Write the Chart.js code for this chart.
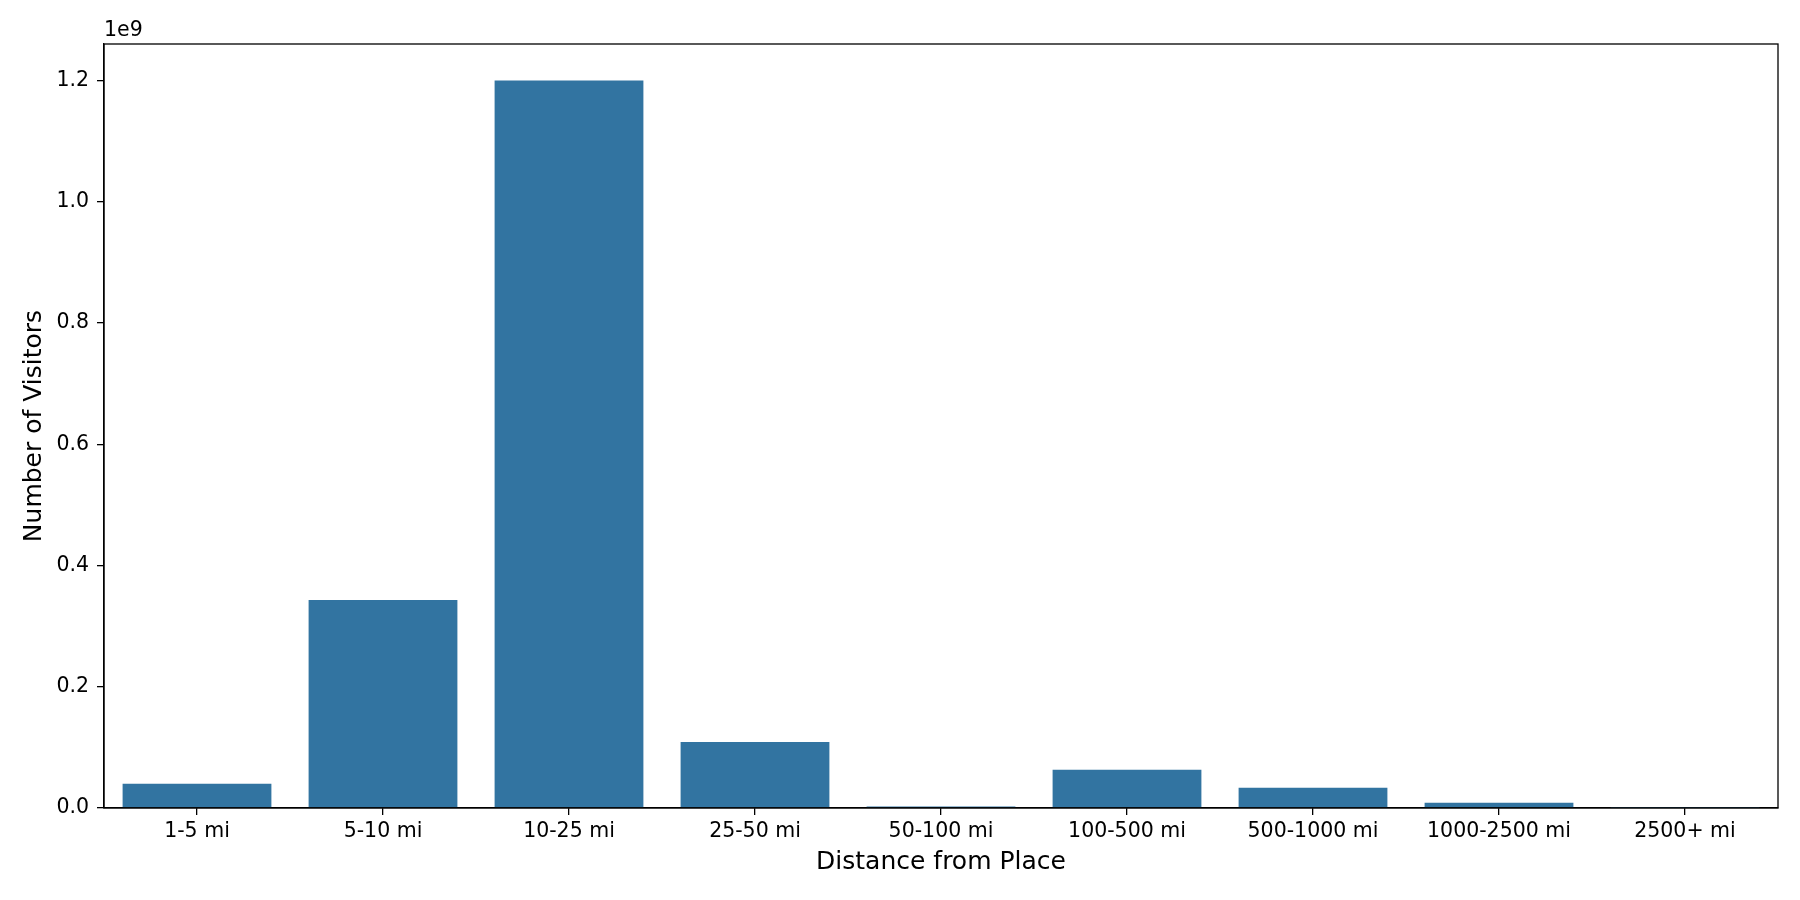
<!DOCTYPE html>
<html>
<head>
<meta charset="utf-8">
<script src="https://cdn.jsdelivr.net/npm/chart.js@4"></script>
<style>
  html, body { margin: 0; padding: 0; background: #fff; }
  #wrap { width: 1800px; height: 900px; }
</style>
</head>
<body>
<div id="wrap"><canvas id="chart" width="1800" height="900"></canvas></div>
<script>
const distanceBands = ["1-5 mi", "5-10 mi", "10-25 mi", "25-50 mi", "50-100 mi", "100-500 mi", "500-1000 mi", "1000-2500 mi", "2500+ mi"];
const visitorCounts = [40e6, 343e6, 1200e6, 109e6, 2.5e6, 63e6, 33.5e6, 8.7e6, 0.5e6];
const yTickValues = [0, 0.2e9, 0.4e9, 0.6e9, 0.8e9, 1.0e9, 1.2e9];
const yMax = 1.26e9;

const FONT = "'DejaVu Sans', sans-serif";

// box around the plot + the "1e9" offset label
const frame = {
    id: "frame",
    afterDraw(chart) {
        const { ctx, chartArea: a } = chart;
        ctx.save();
        ctx.strokeStyle = "#000";
        ctx.lineWidth = 1.3;
        ctx.strokeRect(a.left, a.top, a.right - a.left, a.bottom - a.top);
        ctx.fillStyle = "#000";
        ctx.font = "20.5px " + FONT;
        ctx.textAlign = "left";
        ctx.textBaseline = "bottom";
        ctx.fillText("1e9", a.left, a.top - 3);
        ctx.restore();
    }
};

new Chart(document.getElementById("chart"), {
    type: "bar",
    data: {
        labels: distanceBands,
        datasets: [{
            data: visitorCounts,
            backgroundColor: "#3274a1",
            categoryPercentage: 0.8,
            barPercentage: 1
        }]
    },
    options: {
        responsive: false,
        animation: false,
        layout: { padding: { top: 44, right: 22, bottom: 0, left: 0 } },
        plugins: { legend: { display: false }, tooltip: { enabled: false } },
        scales: {
            x: {
                grid: { display: true, drawOnChartArea: false, offset: false, tickLength: 7, color: "#000", lineWidth: 1.3 },
                border: { display: true, color: "#000", width: 1.3 },
                ticks: { color: "#000", font: { family: FONT, size: 20.5 }, padding: 4, maxRotation: 0 },
                title: { display: true, text: "Distance from Place", color: "#000", font: { family: FONT, size: 25 }, padding: { bottom: 23 } },
                afterFit(scale) { scale.height = 92; }
            },
            y: {
                min: 0,
                max: yMax,
                grid: { display: true, drawOnChartArea: false, tickLength: 7, color: "#000", lineWidth: 1.3 },
                border: { display: true, color: "#000", width: 1.3 },
                ticks: {
                    color: "#000",
                    font: { family: FONT, size: 20.5 },
                    padding: 8,
                    callback: v => (v / 1e9).toFixed(1)
                },
                afterBuildTicks(scale) {
                    scale.ticks = yTickValues.map(v => ({ value: v }));
                },
                title: { display: true, text: "Number of Visitors", color: "#000", font: { family: FONT, size: 25 }, padding: { top: 19 } },
                afterFit(scale) { scale.width = 104; }
            }
        }
    },
    plugins: [frame]
});
</script>
</body>
</html>
